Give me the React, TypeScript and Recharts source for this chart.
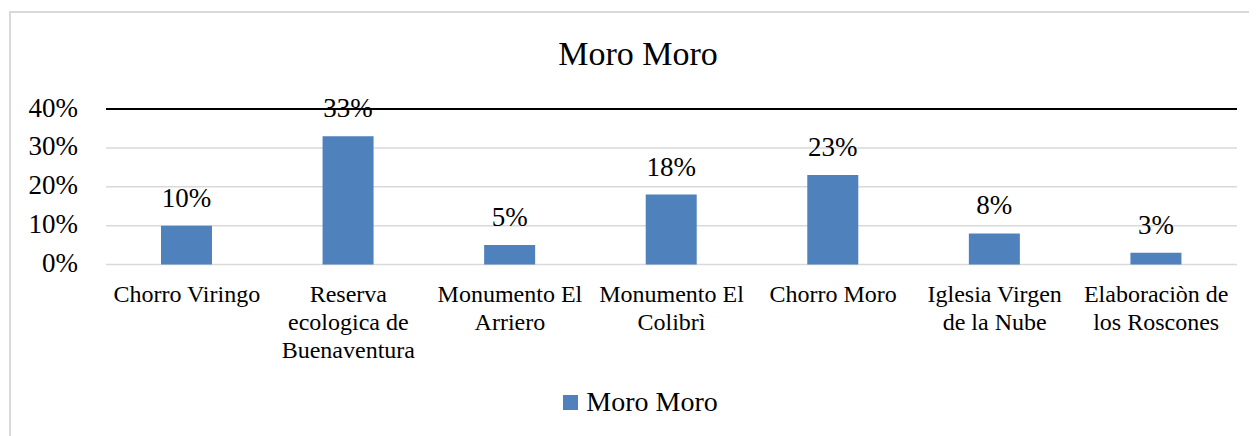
import React from 'react'
import { BarChart, Bar, XAxis, YAxis, CartesianGrid, Legend, LabelList, ReferenceLine } from 'recharts'

const serif = "'Liberation Serif', 'Times New Roman', serif"

const categories = [
  'Chorro Viringo',
  'Reserva ecologica de Buenaventura',
  'Monumento El Arriero',
  'Monumento El Colibrì',
  'Chorro Moro',
  'Iglesia Virgen de la Nube',
  'Elaboraciòn de los Roscones',
]
// wrapped tick labels, one entry per category
const tickLines = [
  ['Chorro Viringo'],
  ['Reserva', 'ecologica de', 'Buenaventura'],
  ['Monumento El', 'Arriero'],
  ['Monumento El', 'Colibrì'],
  ['Chorro Moro'],
  ['Iglesia Virgen', 'de la Nube'],
  ['Elaboraciòn de', 'los Roscones'],
]
const values = [0.10, 0.33, 0.05, 0.18, 0.23, 0.08, 0.03]
const yTicks = [0, 0.1, 0.2, 0.3, 0.4]
const seriesName = 'Moro Moro'

const data = categories.map((c, i) => ({ name: c, value: values[i] }))

const pct = (v: number) => `${Math.round(v * 100)}%`

function CategoryTick({ x, y, index }: any) {
  const lines = tickLines[index] || []
  return (
    <text x={x} y={y} textAnchor="middle" fontFamily={serif} fontSize={24} fill="#000">
      {lines.map((l, i) => (
        <tspan key={i} x={x} dy={i === 0 ? 37 : 28}>{l}</tspan>
      ))}
    </text>
  )
}

function LegendContent() {
  return (
    <div style={{ display: 'flex', justifyContent: 'center', alignItems: 'center', paddingLeft: 5, fontFamily: serif }}>
      <span style={{ width: 15, height: 15, background: '#4F81BD', marginRight: 8, display: 'inline-block' }} />
      <span style={{ fontSize: 28, lineHeight: '28px', color: '#000' }}>{seriesName}</span>
    </div>
  )
}

export default function App() {
  return (
    <div
      style={{
        position: 'relative', left: 1, top: 3, width: 1258, height: 440,
        border: '2px solid #d9d9d9', boxSizing: 'border-box', fontFamily: serif,
      }}
    >
      <div
        style={{
          position: 'absolute', top: 23.5, left: 0, width: 1254, textAlign: 'center',
          fontSize: 34, lineHeight: '34px', color: '#000',
        }}
      >
        {seriesName}
      </div>
      <BarChart width={1254} height={436} data={data} margin={{ top: 96, right: 28, bottom: 60, left: 0 }}>
        <CartesianGrid vertical={false} stroke="#d9d9d9" strokeWidth={1.5} />
        <XAxis
          dataKey="name"
          axisLine={false}
          tickLine={false}
          tickSize={0}
          tickMargin={0}
          height={124.5}
          interval={0}
          tick={<CategoryTick />}
        />
        <YAxis
          domain={[0, 0.4]}
          ticks={yTicks}
          tickFormatter={pct}
          axisLine={false}
          tickLine={false}
          tickSize={0}
          tickMargin={28}
          width={95}
          tick={{ fontSize: 27, fill: '#000', fontFamily: serif, dy: -2 }}
        />
        <ReferenceLine y={0.4} stroke="#000" strokeWidth={2} />
        <Legend
          layout="horizontal"
          verticalAlign="middle"
          align="center"
          wrapperStyle={{ top: 375, left: 0, width: 1254 }}
          content={<LegendContent />}
        />
        <Bar dataKey="value" name={seriesName} fill="#4F81BD" barSize={51} isAnimationActive={false}>
          <LabelList dataKey="value" position="top" offset={19} formatter={pct} fontSize={27} fill="#000" fontFamily={serif} />
        </Bar>
      </BarChart>
    </div>
  )
}
